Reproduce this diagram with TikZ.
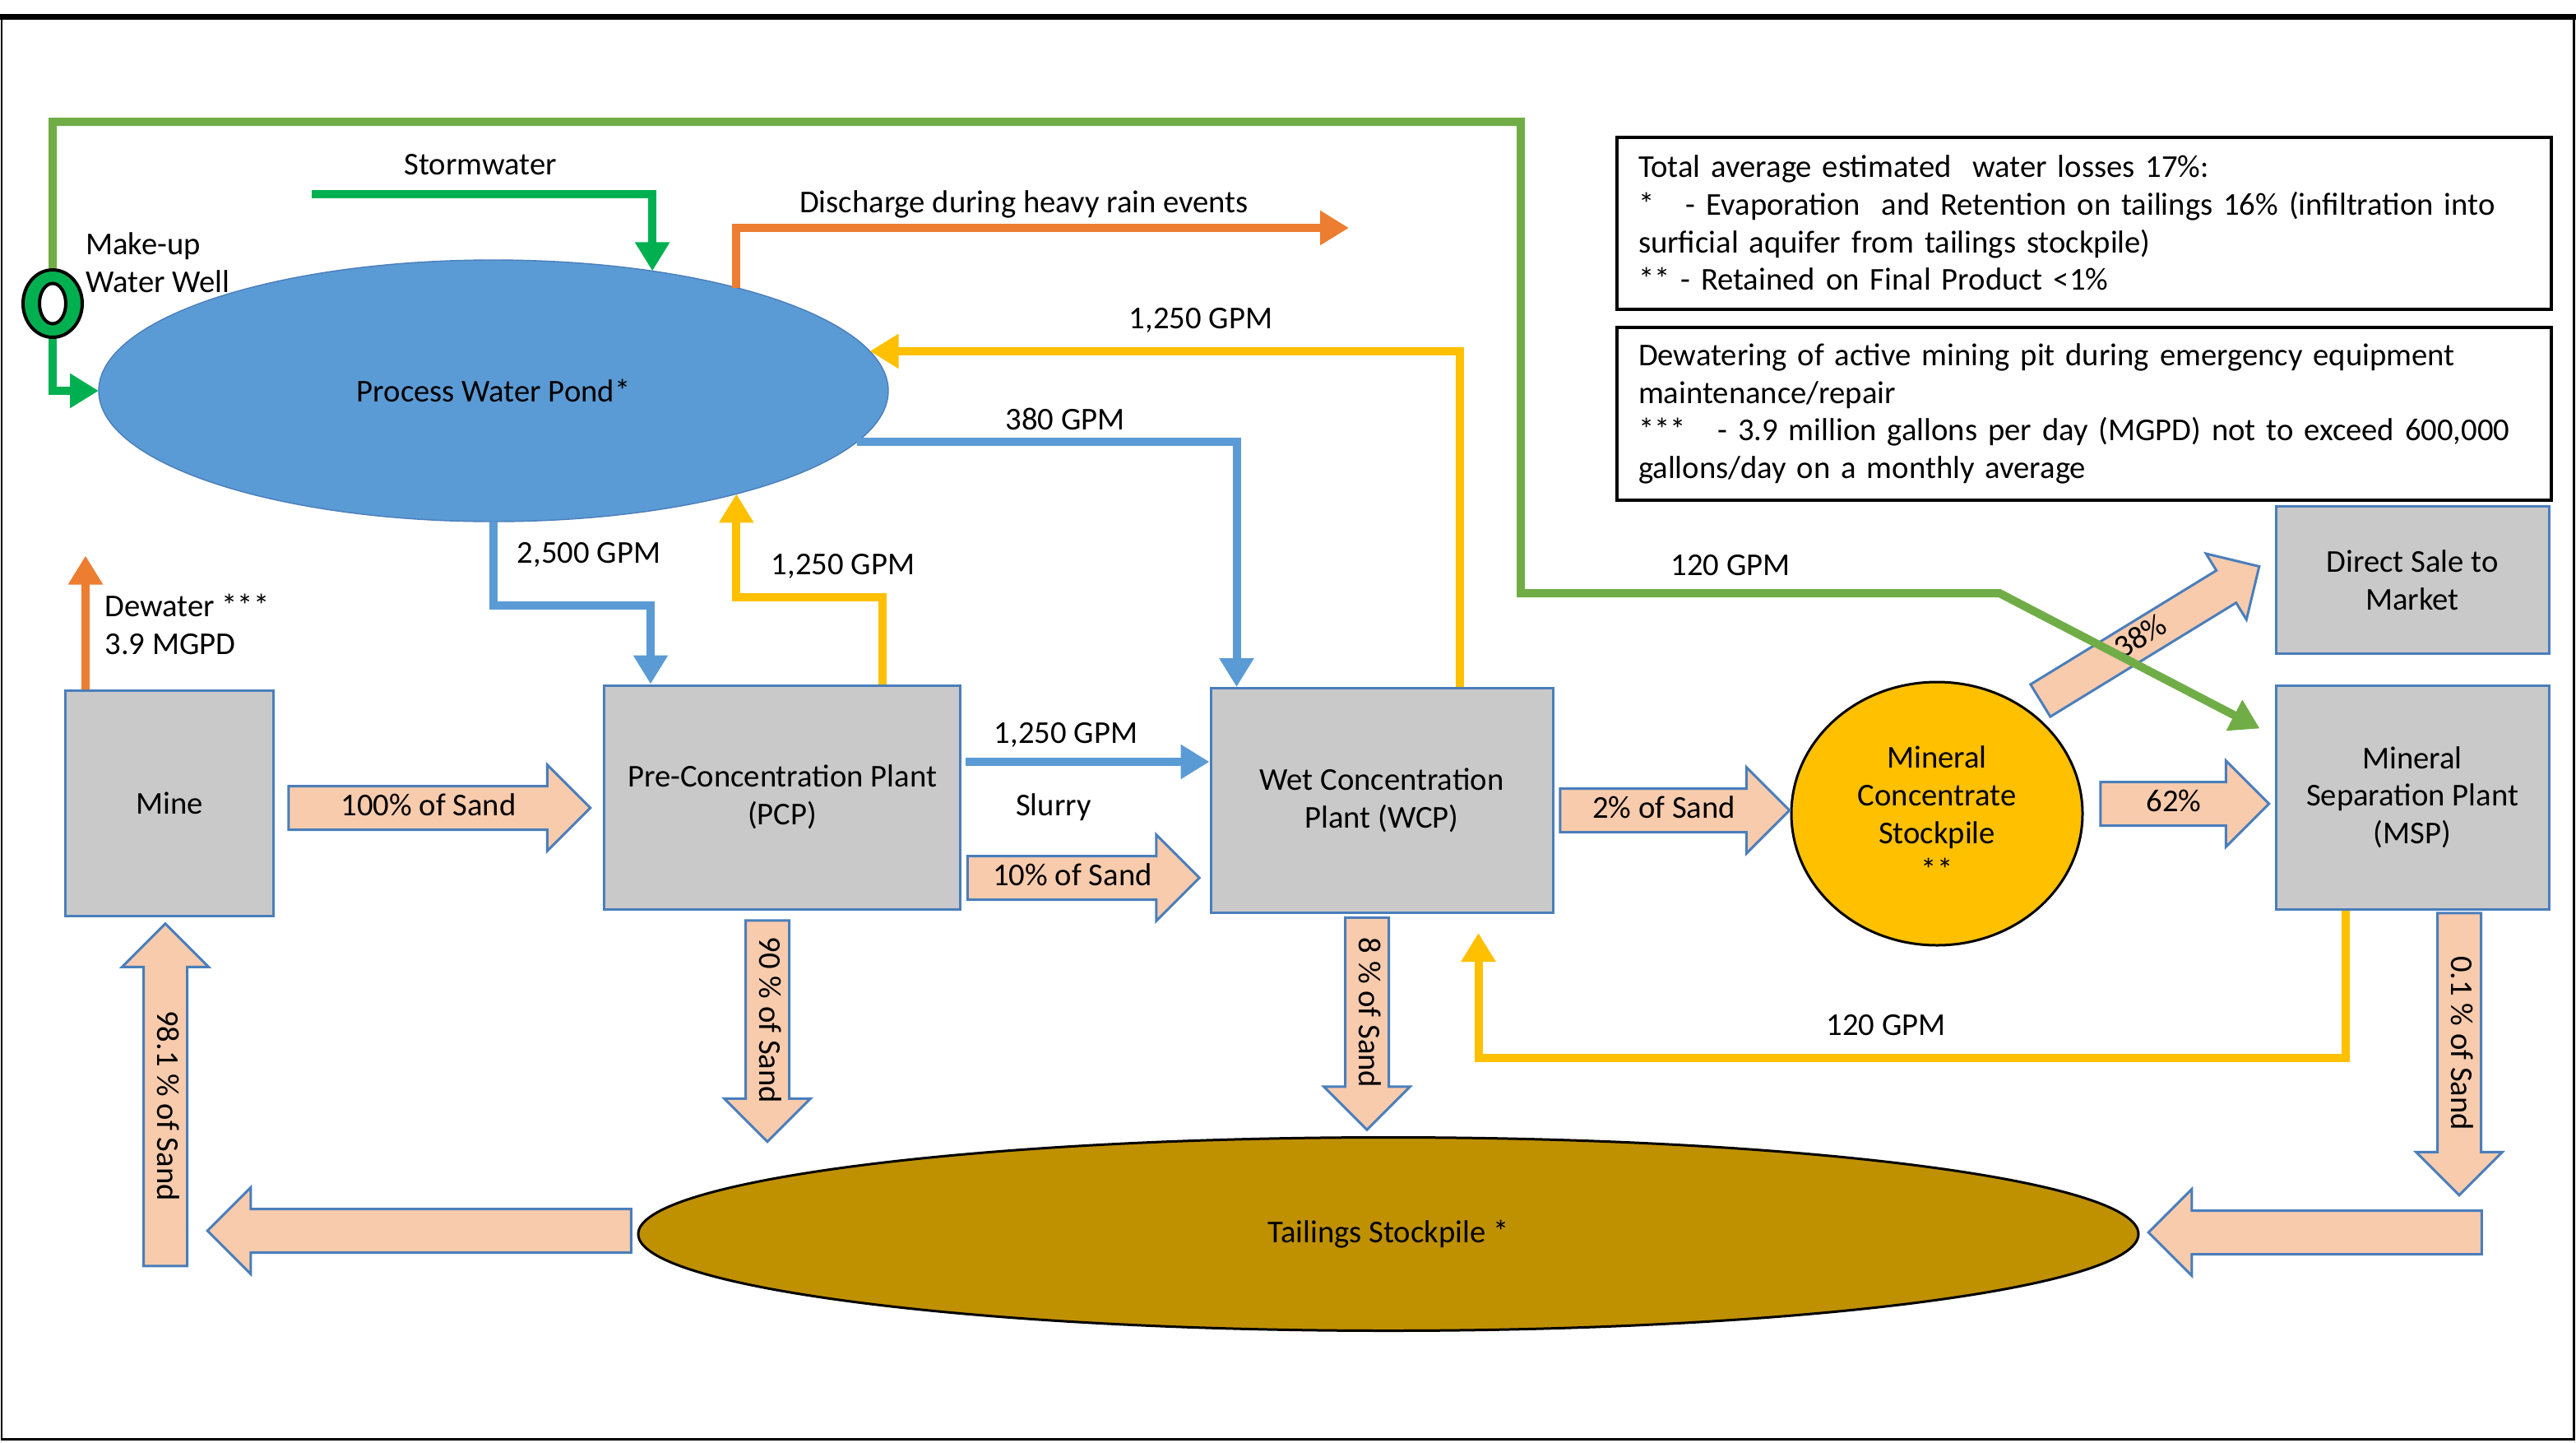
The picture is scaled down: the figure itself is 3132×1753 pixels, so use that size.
\documentclass[tikz,border=0pt]{standalone}
\usepackage{fontspec}
\setmainfont{Carlito}
\usetikzlibrary{shapes.geometric,shapes.arrows,arrows.meta,calc}
\definecolor{pondblue}{HTML}{5B9BD5}
\definecolor{edgeblue}{HTML}{4A7EBB}
\definecolor{flowyellow}{HTML}{FFC000}
\definecolor{floworange}{HTML}{ED7D31}
\definecolor{loopgreen}{HTML}{70AD47}
\definecolor{wellgreen}{HTML}{00B050}
\definecolor{plantgray}{HTML}{C9C9C9}
\definecolor{sandpeach}{HTML}{F8CBAD}
\definecolor{tailbrown}{HTML}{BF9000}

\begin{document}
\begin{tikzpicture}[x=0.1mm,y=-0.1mm,font=\fontsize{11}{13}\selectfont,
  plant/.style={draw=edgeblue,line width=0.3mm,fill=plantgray,align=center,inner sep=0pt},
  flow/.style={line width=1mm,-{Triangle[length=3.5mm,width=4mm]}},
  sand/.style={single arrow,draw=edgeblue,line width=0.3mm,fill=sandpeach,
    single arrow head extend=2.6mm,inner xsep=0pt,inner ysep=0.75mm,
    text height=2.7mm,text depth=0.8mm,minimum width=0pt},
  note/.style={draw,line width=0.4mm,align=left,inner xsep=2.6mm,text width=108.4mm,minimum height=#1}]
 \useasboundingbox (0,0) rectangle (3132,1753);
 \draw[line width=0.3mm] (2,20) rectangle (3129,1749);
 \draw[line width=0.7mm] (0,20) -- (3132,20);

 % ponds and stockpiles
 \node[ellipse,draw=edgeblue,fill=pondblue,minimum width=96mm,minimum height=31.8mm,inner sep=0pt,outer sep=0pt] (pond) at (600,475) {Process Water Pond*};
 \node[ellipse,draw,line width=0.3mm,fill=flowyellow,minimum width=35.4mm,minimum height=32mm,align=center,inner sep=0pt] (mcs) at (2355,989) {Mineral\\Concentrate\\Stockpile\\{}**};
 \node[ellipse,draw,line width=0.3mm,fill=tailbrown,minimum width=182.4mm,minimum height=23.5mm] (tail) at (1688,1500) {Tailings Stockpile *};
 \node[ellipse,draw,line width=0.4mm,fill=wellgreen,minimum width=7.2mm,minimum height=8.2mm,inner sep=0pt] (well) at (64,369) {};
 \node[ellipse,draw,line width=0.4mm,fill=white,minimum width=3.2mm,minimum height=4.9mm,inner sep=0pt] (wellhole) at (well.center) {};

 % plants
 \node[plant,minimum width=25.3mm,minimum height=27.4mm] (mine) at (206,976) {Mine};
 \node[plant,minimum width=43.3mm,minimum height=27.2mm] (pcp) at (951,969) {Pre-Concentration Plant\\(PCP)};
 \node[plant,minimum width=41.6mm,minimum height=27.3mm] (wcp) at (1680,973) {Wet Concentration\\Plant (WCP)};
 \node[plant,minimum width=33.2mm,minimum height=17.9mm] (sale) at (2933,705) {Direct Sale to\\Market};
 \node[plant,minimum width=33.2mm,minimum height=27.2mm] (msp) at (2933,969) {Mineral\\Separation Plant\\(MSP)};

 % notes
 \node[note=20.9mm] (losses) at (2534,271) {Total average estimated\ \ water losses 17\%:\\
  {}*\ \ \ - Evaporation\ \ and Retention on tailings 16\% (infiltration into\\
  surficial aquifer from tailings stockpile)\\
  {}** - Retained on Final Product <1\%};
 \node[note=21mm] (dewatering) at (2534,503) {Dewatering of active mining pit during emergency equipment\\
  maintenance/repair\\
  {}***\ \ \ - 3.9 million gallons per day (MGPD) not to exceed 600,000\\
  gallons/day on a monthly average};

 % sand flows
 \node[sand,minimum height=36.7mm] (sand100) at (521,982) {100\% of Sand};
 \node[sand,minimum height=28.2mm] (sand10) at (1304,1067) {10\% of Sand};
 \node[sand,rotate=-90,minimum height=26.9mm] (sand90) at (933,1240) {90 \% of Sand};
 \node[sand,rotate=-90,shape border rotate=180,minimum height=41.6mm] (sand981) at (201,1344) {98.1 \% of Sand};
 \node[sand,rotate=180,minimum height=51.5mm] (sandback) at (523,1496) {};
 \node[sand,rotate=-90,minimum height=25.8mm] (sand8) at (1662,1231) {8 \% of Sand};
 \node[sand,minimum height=27.9mm] (sand2) at (2023,985) {2\% of Sand};
 \node[sand,minimum height=20.5mm] (sand62) at (2643,977) {62\%};
 \node[sand,rotate=31.5,inner ysep=0.4mm,single arrow head extend=2.4mm,minimum height=31.2mm] (sand38) at (2604,776) {38\%};
 \node[sand,rotate=-90,minimum height=34.3mm] (sand01) at (2990,1268) {0.1 \% of Sand};
 \node[sand,rotate=180,minimum height=40.5mm] (sandreturn) at (2828,1498) {};

 % water flows
 \coordinate (storm) at (379,236);
 \coordinate (spill) at (1640,277);
 \draw[flow,loopgreen] (well.north) |- (1849,148) |- (2431,721) -- ($(msp.north west)+(-18,54)$);
 \draw[flow,wellgreen] (well.south) |- (pond.west);
 \draw[flow,wellgreen] (storm) -| (pond.37.7);
 \draw[flow,floworange] (pond.23.4) |- (spill);
 \draw[flow,flowyellow] ($(wcp.north west)+(304,0)$) |- (pond.6.5);
 \draw[flow,pondblue] (pond.-8.4) -| ($(wcp.north west)+(33,0)$);
 \draw[flow,pondblue] (pond.south) -- ++(0,102) -| ($(pcp.north west)+(58,0)$);
 \draw[flow,flowyellow] ($(pcp.north west)+(340,0)$) -- ++(0,-106) -| (pond.-23.7);
 \draw[flow,floworange] ($(mine.north west)+(26,0)$) -- ++(0,-162);
 \draw[flow,pondblue] ($(pcp.east)+(5,-43)$) coordinate (slurry) -- (slurry -| wcp.west);
 \draw[flow,flowyellow] ($(msp.south west)+(86,0)$) -- ++(0,179) -| ($(wcp.south west)+(327,23)$);

 % flow labels
 \node (stormlabel) at (584,200) {Stormwater};
 \node (spilllabel) at (1245,248) {Discharge during heavy rain events};
 \node[anchor=west,align=left] (welllabel) at (92,319) {Make-up\\Water Well};
 \node[anchor=west,align=left] (dewaterlabel) at (115,759) {Dewater ***\\3.9 MGPD};
 \node (gpm2500) at (716,674) {2,500 GPM};
 \node (gpmpcp) at (1025,688) {1,250 GPM};
 \node (gpmwcp) at (1460,389) {1,250 GPM};
 \node (gpm380) at (1295,509) {380 GPM};
 \node (gpmslurry) at (1296,893) {1,250 GPM};
 \node (slurrylabel) at (1281,981) {Slurry};
 \node (gpmmakeup) at (2104,687) {120 GPM};
 \node (gpmmsp) at (2293,1246) {120 GPM};
\end{tikzpicture}
\end{document}
